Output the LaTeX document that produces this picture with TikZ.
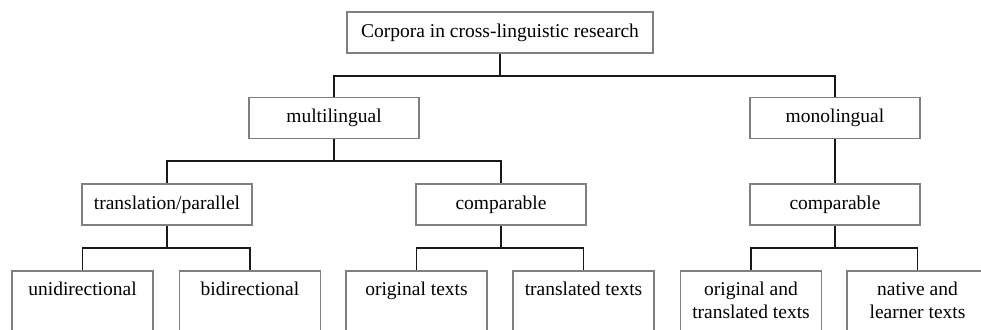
\documentclass[tikz,border=0pt]{standalone}
\usepackage{fontspec}
\setmainfont{Liberation Serif}
\begin{document}
\begin{tikzpicture}[x=1pt,y=-1pt,
  box/.style={draw=black!50,line width=1.8pt,fill=white,minimum height=41pt,inner sep=0pt,font=\fontsize{19.5}{23}\selectfont},
  leaf/.style={draw=black!50,line width=1.8pt,fill=white,minimum width=141pt,minimum height=80pt,anchor=north,inner sep=0pt},
  leaftext/.style={anchor=north,align=center,inner sep=0pt,font=\fontsize{19.5}{22.5}\selectfont},
  conn/.style={line width=1.9pt,black!90}]
\useasboundingbox (0,0) rectangle (981,329);
\clip (0,0) rectangle (981,329);
% top level
\node[box,minimum width=306pt] (top) at (500,32.5) {Corpora in cross-linguistic research};
% second level
\node[box,minimum width=170pt] (multi) at (334,118) {multilingual};
\node[box,minimum width=170pt] (mono) at (835,118) {monolingual};
% third level
\node[box,minimum width=170pt] (trans) at (167,204.5) {translation/parallel};
\node[box,minimum width=170pt] (compL) at (501,204.5) {comparable};
\node[box,minimum width=170pt] (compR) at (835,204.5) {comparable};
% leaves
\node[leaf] (uni) at (82.5,270) {};
\node[leaf] (bi) at (250,270) {};
\node[leaf] (orig) at (416.5,270) {};
\node[leaf] (tr) at (583.5,270) {};
\node[leaf] (ot) at (751,270) {};
\node[leaf] (nl) at (917.5,270) {};
\node[leaftext] (uniT) at (82.5,282) {unidirectional};
\node[leaftext] (biT) at (250,282) {bidirectional};
\node[leaftext] (origT) at (416.5,282) {original texts};
\node[leaftext] (trT) at (583.5,282) {translated texts};
\node[leaftext] (otT) at (751,282) {original and\\translated texts};
\node[leaftext] (nlT) at (917.5,282) {native and\\learner texts};
% connectors
\draw[conn] (top.south) -- ++(0,22) coordinate (j1);
\draw[conn] (j1) -| (multi.north);
\draw[conn] (j1) -| (mono.north);
\draw[conn] (multi.south) -- ++(0,22) coordinate (j2);
\draw[conn] (j2) -| (trans.north);
\draw[conn] (j2) -| (compL.north);
\draw[conn] (mono.south) -- (compR.north);
\draw[conn] (trans.south) -- ++(0,22) coordinate (j3);
\draw[conn] (j3) -| (uni.north);
\draw[conn] (j3) -| (bi.north);
\draw[conn] (compL.south) -- ++(0,22) coordinate (j4);
\draw[conn] (j4) -| (orig.north);
\draw[conn] (j4) -| (tr.north);
\draw[conn] (compR.south) -- ++(0,22) coordinate (j5);
\draw[conn] (j5) -| (ot.north);
\draw[conn] (j5) -| (nl.north);
\end{tikzpicture}
\end{document}
